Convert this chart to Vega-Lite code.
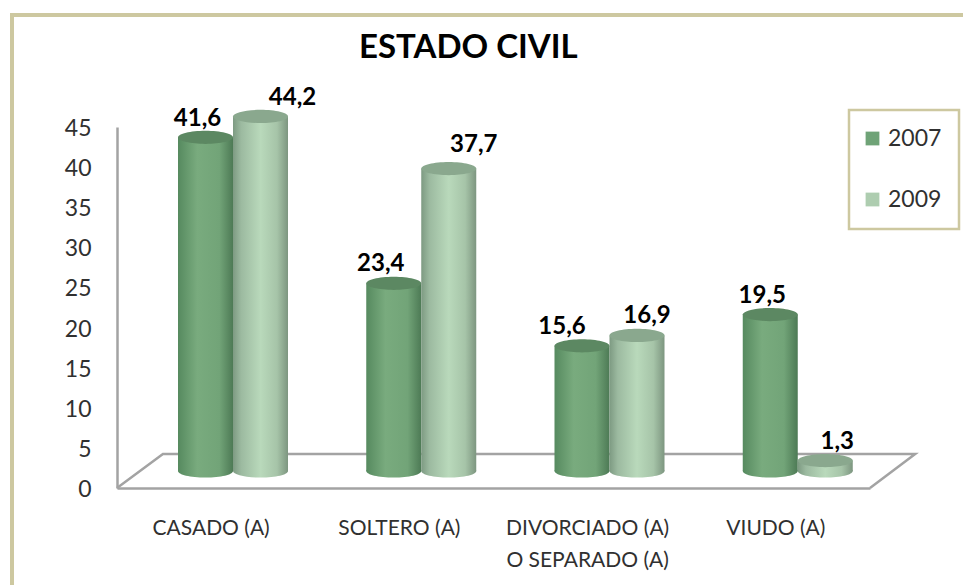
{"$schema":"https://vega.github.io/schema/vega-lite/v6.json","width":961,"height":580,"autosize":"none","padding":{"left":12,"top":15,"right":-10,"bottom":-10},"background":"#ffffff","view":{"stroke":"#cdc8a0","strokeWidth":4,"fill":"#ffffff"},"title":{"text":"ESTADO CIVIL","font":"Lato","fontWeight":"bold","fontSize":33,"color":"#000000","anchor":"start","dx":347,"offset":-50},"config":{"font":"Lato","legend":{"strokeWidth":2.5}},"data":{"values":[{"cat":"CASADO (A)","year":"2007","value":41.6,"label":"41,6"},{"cat":"CASADO (A)","year":"2009","value":44.2,"label":"44,2"},{"cat":"SOLTERO (A)","year":"2007","value":23.4,"label":"23,4"},{"cat":"SOLTERO (A)","year":"2009","value":37.7,"label":"37,7"},{"cat":"DIVORCIADO (A) O SEPARADO (A)","year":"2007","value":15.6,"label":"15,6"},{"cat":"DIVORCIADO (A) O SEPARADO (A)","year":"2009","value":16.9,"label":"16,9"},{"cat":"VIUDO (A)","year":"2007","value":19.5,"label":"19,5"},{"cat":"VIUDO (A)","year":"2009","value":1.3,"label":"1,3"}]},"encoding":{"x":{"field":"cat","type":"nominal","sort":null,"scale":{"type":"band","domain":["CASADO (A)","SOLTERO (A)","DIVORCIADO (A) O SEPARADO (A)","VIUDO (A)"],"range":[105,858],"paddingInner":0,"paddingOuter":0},"axis":null},"xOffset":{"field":"year","type":"nominal","scale":{"domain":["2007","2009"],"range":[61,171],"paddingInner":0,"paddingOuter":0}},"y":{"field":"value","type":"quantitative","scale":{"domain":[0,45],"range":[473,112],"nice":false,"zero":false},"axis":{"orient":"left","offset":-105,"title":null,"grid":false,"ticks":false,"values":[0,5,10,15,20,25,30,35,40,45],"domainColor":"#a3a3a3","domainWidth":2.5,"labelFontSize":23,"labelFont":"Lato","labelColor":"#303030","labelPadding":26,"labelOffset":1.5}}},"layer":[{"data":{"values":[{"seq":1,"fx":0,"fy":0},{"seq":2,"fx":6.1,"fy":4.24},{"seq":3,"fx":106,"fy":4.24},{"seq":4,"fx":100,"fy":0}]},"mark":{"type":"line","color":"#a3a3a3","strokeWidth":2.5,"clip":false},"encoding":{"x":{"field":"fx","type":"quantitative","scale":{"domain":[0,100],"range":[105,858],"nice":false,"zero":false},"axis":null},"y":{"field":"fy","type":"quantitative"},"order":{"field":"seq"},"xOffset":null}},{"mark":{"type":"point","filled":true,"opacity":0},"encoding":{"color":{"field":"year","type":"nominal","scale":{"domain":["2007","2009"],"range":["#6fa377","#aecdb0"]},"legend":{"orient":"none","legendX":837,"legendY":95,"title":null,"direction":"vertical","symbolType":"square","symbolSize":190,"symbolOpacity":1,"symbolStrokeWidth":0,"symbolOffset":-5,"labelFontSize":23,"labelColor":"#303030","labelFont":"Lato","labelOffset":4,"rowPadding":37,"padding":17,"strokeColor":"#cdc8a0","fillColor":"#ffffff"}}}},{"mark":{"type":"bar","width":55,"yOffset":-17,"y2Offset":-17,"clip":false,"color":{"gradient":"linear","x1":0,"x2":1,"y1":0,"y2":0,"stops":[{"offset":0,"color":"#568a5f"},{"offset":0.35,"color":"#79ab7e"},{"offset":0.75,"color":"#72a478"},{"offset":1,"color":"#4d7a55"}]}},"transform":[{"filter":"datum.year=='2007'"}],"encoding":{"y2":{"datum":0}}},{"mark":{"type":"point","filled":true,"size":3025,"opacity":1,"yOffset":-17,"shape":"M-1,0A1,0.24,0,1,1,1,0A1,0.24,0,1,1,-1,0Z","fill":{"gradient":"linear","x1":0,"x2":1,"y1":0,"y2":0,"stops":[{"offset":0,"color":"#568a5f"},{"offset":0.35,"color":"#79ab7e"},{"offset":0.75,"color":"#72a478"},{"offset":1,"color":"#4d7a55"}]}},"transform":[{"filter":"datum.year=='2007'"}],"encoding":{"y":{"datum":0}}},{"mark":{"type":"point","filled":true,"size":3025,"opacity":1,"yOffset":-17,"shape":"M-1,0A1,0.24,0,1,1,1,0A1,0.24,0,1,1,-1,0Z","fill":"#5c8862"},"transform":[{"filter":"datum.year=='2007'"}]},{"mark":{"type":"bar","width":55,"yOffset":-17,"y2Offset":-17,"clip":false,"color":{"gradient":"linear","x1":0,"x2":1,"y1":0,"y2":0,"stops":[{"offset":0,"color":"#7d9a82"},{"offset":0.15,"color":"#9cbaa0"},{"offset":0.5,"color":"#b9d9bb"},{"offset":0.8,"color":"#a6c4a8"},{"offset":1,"color":"#7d9680"}]}},"transform":[{"filter":"datum.year=='2009'"}],"encoding":{"y2":{"datum":0}}},{"mark":{"type":"point","filled":true,"size":3025,"opacity":1,"yOffset":-17,"shape":"M-1,0A1,0.24,0,1,1,1,0A1,0.24,0,1,1,-1,0Z","fill":{"gradient":"linear","x1":0,"x2":1,"y1":0,"y2":0,"stops":[{"offset":0,"color":"#7d9a82"},{"offset":0.15,"color":"#9cbaa0"},{"offset":0.5,"color":"#b9d9bb"},{"offset":0.8,"color":"#a6c4a8"},{"offset":1,"color":"#7d9680"}]}},"transform":[{"filter":"datum.year=='2009'"}],"encoding":{"y":{"datum":0}}},{"mark":{"type":"point","filled":true,"size":3025,"opacity":1,"yOffset":-17,"shape":"M-1,0A1,0.24,0,1,1,1,0A1,0.24,0,1,1,-1,0Z","fill":"#8aa88e"},"transform":[{"filter":"datum.year=='2009'"}]},{"mark":{"type":"text","fontSize":24,"fontWeight":"bold","font":"Lato","color":"#000000","dx":-8,"dy":-35},"transform":[{"filter":"datum.label=='41,6'"}],"encoding":{"text":{"field":"label"}}},{"mark":{"type":"text","fontSize":24,"fontWeight":"bold","font":"Lato","color":"#000000","dx":32,"dy":-35},"transform":[{"filter":"datum.label=='44,2'"}],"encoding":{"text":{"field":"label"}}},{"mark":{"type":"text","fontSize":24,"fontWeight":"bold","font":"Lato","color":"#000000","dx":-13,"dy":-36},"transform":[{"filter":"datum.label=='23,4'"}],"encoding":{"text":{"field":"label"}}},{"mark":{"type":"text","fontSize":24,"fontWeight":"bold","font":"Lato","color":"#000000","dx":25,"dy":-41},"transform":[{"filter":"datum.label=='37,7'"}],"encoding":{"text":{"field":"label"}}},{"mark":{"type":"text","fontSize":24,"fontWeight":"bold","font":"Lato","color":"#000000","dx":-20,"dy":-36},"transform":[{"filter":"datum.label=='15,6'"}],"encoding":{"text":{"field":"label"}}},{"mark":{"type":"text","fontSize":24,"fontWeight":"bold","font":"Lato","color":"#000000","dx":10,"dy":-36},"transform":[{"filter":"datum.label=='16,9'"}],"encoding":{"text":{"field":"label"}}},{"mark":{"type":"text","fontSize":24,"fontWeight":"bold","font":"Lato","color":"#000000","dx":-8,"dy":-36},"transform":[{"filter":"datum.label=='19,5'"}],"encoding":{"text":{"field":"label"}}},{"mark":{"type":"text","fontSize":24,"fontWeight":"bold","font":"Lato","color":"#000000","dx":12,"dy":-36},"transform":[{"filter":"datum.label=='1,3'"}],"encoding":{"text":{"field":"label"}}},{"mark":{"type":"rule","opacity":0},"encoding":{"x":{"field":"cat","type":"nominal","sort":null,"axis":{"orient":"bottom","offset":-107,"title":null,"ticks":false,"domainColor":"#a3a3a3","domainWidth":2.5,"labelFontSize":21,"labelFont":"Lato","labelColor":"#303030","labelPadding":29,"labelAngle":0,"labelLimit":300,"labelLineHeight":32,"labelExpr":"datum.label=='DIVORCIADO (A) O SEPARADO (A)' ? ['DIVORCIADO (A)','O SEPARADO (A)'] : datum.label"}},"xOffset":null}}],"resolve":{"scale":{"x":"independent"},"axis":{"x":"independent"}}}
